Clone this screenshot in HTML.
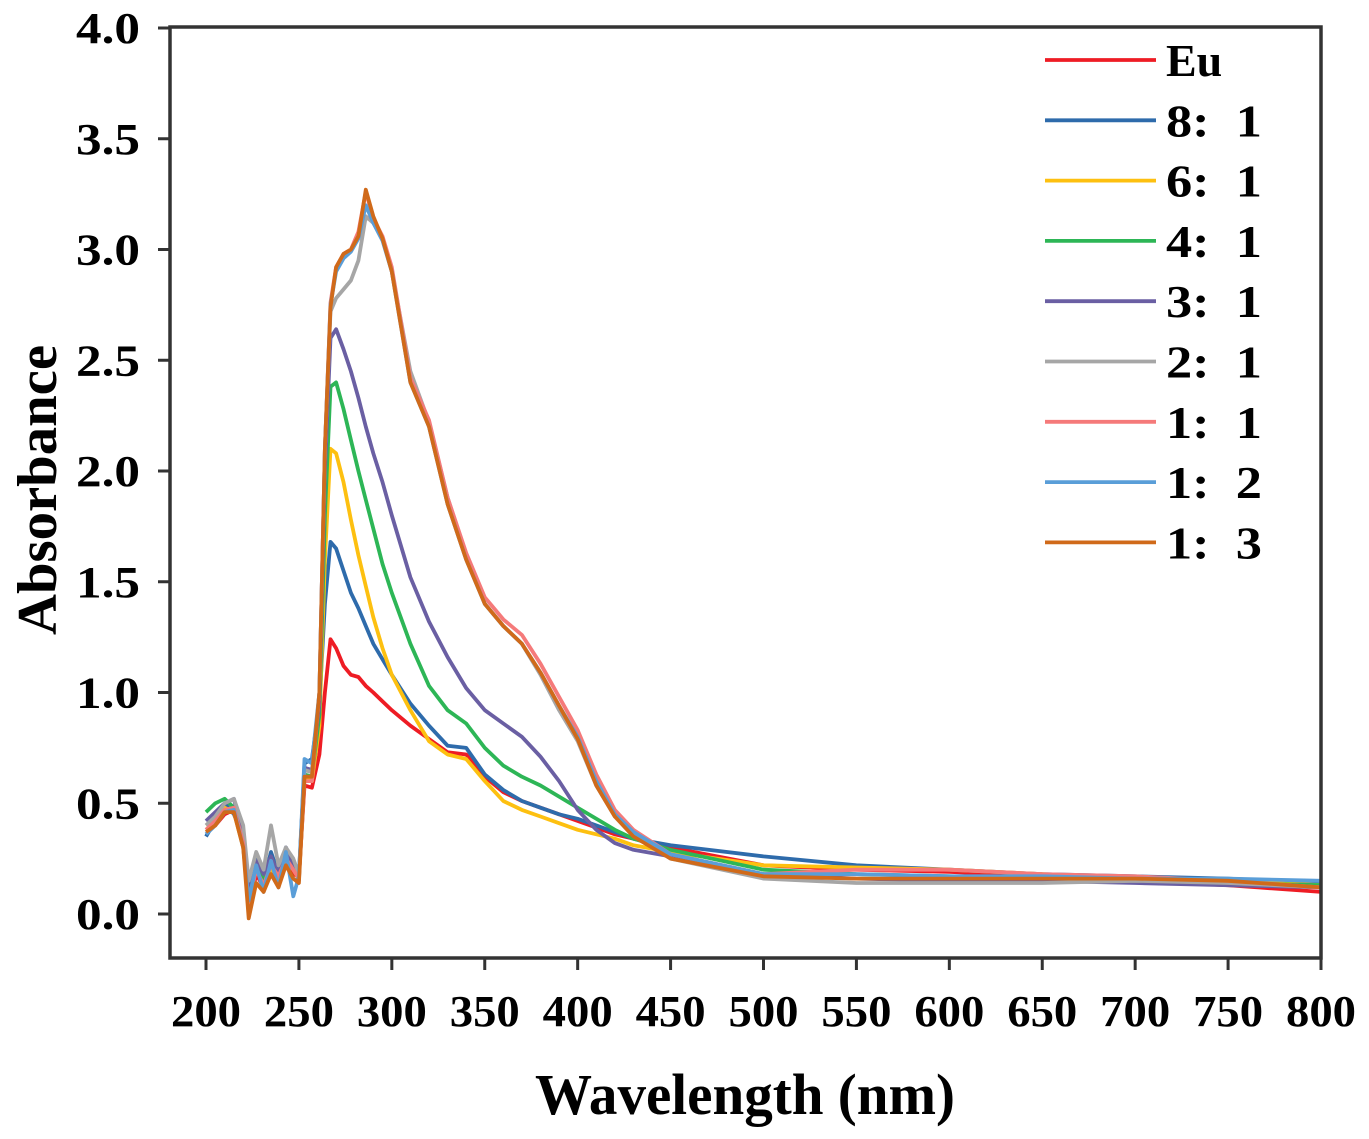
<!DOCTYPE html>
<html><head><meta charset="utf-8"><style>
html,body{margin:0;padding:0;background:#fff;}
svg{display:block;font-family:"Liberation Serif",serif;font-weight:bold;}
</style></head><body>
<svg id="chart" width="1369" height="1139" viewBox="0 0 1369 1139" xmlns="http://www.w3.org/2000/svg">
<rect x="0" y="0" width="1369" height="1139" fill="#fff"/>
<g id="series"></g>
<rect x="170" y="27" width="1151" height="931" fill="none" stroke="#333" stroke-width="3.5"/>
<g id="axes"></g>
<g id="legend"></g>
<text x="56" y="490" font-size="56" text-anchor="middle" transform="rotate(-90 56 490)" textLength="290" lengthAdjust="spacingAndGlyphs">Absorbance</text>
<text x="745" y="1114" font-size="58" text-anchor="middle" textLength="420" lengthAdjust="spacingAndGlyphs">Wavelength (nm)</text>
</svg>
<script>
const wavelengths=[200,205,210,215,220,223,227,231,235,239,243,247,250,253,257,261,264,267,270,274,278,282,286,290,295,300,310,320,330,340,350,360,370,380,390,400,410,420,430,450,500,550,600,650,700,750,800];
const seriesNames=["Eu","8:\u00a0\u00a01","6:\u00a0\u00a01","4:\u00a0\u00a01","3:\u00a0\u00a01","2:\u00a0\u00a01","1:\u00a0\u00a01","1:\u00a0\u00a02","1:\u00a0\u00a03"];
const seriesColors=["#ee1c24","#2e6bab","#fdc010","#2db656","#6a5fa3","#a6a6a6","#f57a7a","#5a9ed8","#d06a1a"];
const valsEu=[0.38,0.40,0.45,0.47,0.32,0.02,0.18,0.12,0.20,0.15,0.22,0.18,0.17,0.58,0.57,0.72,1.0,1.24,1.20,1.12,1.08,1.07,1.03,1.00,0.96,0.92,0.85,0.79,0.73,0.72,0.62,0.55,0.51,0.48,0.45,0.42,0.39,0.36,0.34,0.30,0.22,0.20,0.19,0.17,0.15,0.13,0.10];
const vals8to1=[0.35,0.42,0.50,0.45,0.35,0.10,0.25,0.15,0.28,0.18,0.30,0.22,0.15,0.68,0.70,0.95,1.4,1.68,1.65,1.55,1.45,1.38,1.30,1.22,1.15,1.08,0.95,0.85,0.76,0.75,0.63,0.56,0.51,0.48,0.45,0.43,0.40,0.37,0.34,0.31,0.26,0.22,0.20,0.18,0.17,0.16,0.14];
const vals6to1=[0.40,0.43,0.48,0.46,0.30,0.05,0.22,0.14,0.20,0.16,0.24,0.20,0.16,0.62,0.60,0.85,1.6,2.10,2.08,1.95,1.78,1.62,1.48,1.34,1.20,1.08,0.92,0.78,0.72,0.70,0.60,0.51,0.47,0.44,0.41,0.38,0.36,0.34,0.31,0.28,0.22,0.21,0.20,0.18,0.16,0.15,0.13];
const vals4to1=[0.46,0.50,0.52,0.48,0.33,0.06,0.24,0.16,0.22,0.18,0.26,0.21,0.17,0.63,0.62,0.9,1.8,2.38,2.40,2.28,2.14,2.0,1.87,1.74,1.58,1.45,1.22,1.03,0.92,0.86,0.75,0.67,0.62,0.58,0.53,0.48,0.43,0.38,0.34,0.29,0.20,0.18,0.17,0.16,0.15,0.14,0.13];
const vals3to1=[0.42,0.46,0.50,0.52,0.35,0.08,0.24,0.18,0.26,0.18,0.30,0.22,0.17,0.66,0.65,0.95,2.0,2.6,2.64,2.55,2.45,2.33,2.2,2.08,1.95,1.80,1.52,1.32,1.16,1.02,0.92,0.86,0.80,0.71,0.60,0.47,0.38,0.32,0.29,0.26,0.18,0.16,0.15,0.15,0.14,0.13,0.12];
const vals2to1=[0.40,0.44,0.50,0.52,0.40,0.15,0.28,0.20,0.40,0.22,0.30,0.25,0.18,0.65,0.64,1.0,2.1,2.72,2.78,2.82,2.86,2.95,3.15,3.12,3.05,2.9,2.45,2.22,1.88,1.62,1.40,1.30,1.22,1.08,0.92,0.78,0.58,0.44,0.36,0.25,0.16,0.14,0.14,0.14,0.15,0.14,0.12];
const vals1to1=[0.38,0.42,0.47,0.48,0.32,0.05,0.20,0.13,0.22,0.17,0.25,0.20,0.16,0.6,0.6,1.0,2.1,2.76,2.92,2.98,3.0,3.08,3.26,3.14,3.06,2.92,2.42,2.23,1.88,1.63,1.43,1.33,1.26,1.13,0.98,0.83,0.63,0.47,0.38,0.27,0.18,0.20,0.20,0.18,0.17,0.15,0.12];
const vals1to2=[0.36,0.40,0.46,0.47,0.30,0.06,0.22,0.10,0.24,0.12,0.28,0.08,0.17,0.70,0.68,1.0,2.1,2.75,2.9,2.96,2.99,3.05,3.2,3.12,3.04,2.9,2.40,2.2,1.85,1.6,1.40,1.30,1.22,1.09,0.94,0.80,0.60,0.45,0.37,0.27,0.18,0.18,0.17,0.17,0.16,0.16,0.15];
const vals1to3=[0.37,0.40,0.46,0.46,0.30,-0.02,0.14,0.10,0.18,0.12,0.22,0.16,0.14,0.62,0.62,1.0,2.1,2.74,2.92,2.98,3.0,3.06,3.27,3.15,3.05,2.9,2.4,2.2,1.85,1.6,1.40,1.30,1.22,1.09,0.94,0.79,0.58,0.44,0.35,0.25,0.17,0.16,0.16,0.16,0.16,0.15,0.12];
const xTicks=[200,250,300,350,400,450,500,550,600,650,700,750,800];
const yTicks=[0.0,0.5,1.0,1.5,2.0,2.5,3.0,3.5,4.0];
const seriesData=[valsEu,vals8to1,vals6to1,vals4to1,vals3to1,vals2to1,vals1to1,vals1to2,vals1to3];

const NS="http://www.w3.org/2000/svg";
function xScale(w){return 206+(w-200)*(1321-206)/600;}
function yScale(v){return 914-v*(914-28)/4;}

const sg=document.getElementById('series');
seriesData.forEach((vals,i)=>{
  const p=document.createElementNS(NS,'path');
  let d=vals.map((v,j)=>(j?'L':'M')+xScale(wavelengths[j]).toFixed(1)+' '+yScale(v).toFixed(1)).join(' ');
  p.setAttribute('d',d);
  p.setAttribute('fill','none');
  p.setAttribute('stroke',seriesColors[i]);
  p.setAttribute('stroke-width','3.8');
  p.setAttribute('stroke-linejoin','round');
  
  
  sg.appendChild(p);
});

const ax=document.getElementById('axes');
xTicks.forEach(t=>{
  const x=xScale(t);
  const l=document.createElementNS(NS,'line');
  l.setAttribute('x1',x);l.setAttribute('x2',x);l.setAttribute('y1',958);l.setAttribute('y2',970);
  l.setAttribute('stroke','#333');l.setAttribute('stroke-width','3');
  
  
  ax.appendChild(l);
  const tx=document.createElementNS(NS,'text');
  tx.setAttribute('x',x);tx.setAttribute('y',1026);tx.setAttribute('font-size','44');tx.setAttribute('text-anchor','middle');
  tx.setAttribute('textLength','70');tx.setAttribute('lengthAdjust','spacingAndGlyphs');
  tx.textContent=t;
  
  
  ax.appendChild(tx);
});
yTicks.forEach(t=>{
  const y=yScale(t);
  const l=document.createElementNS(NS,'line');
  l.setAttribute('x1',158);l.setAttribute('x2',170);l.setAttribute('y1',y);l.setAttribute('y2',y);
  l.setAttribute('stroke','#333');l.setAttribute('stroke-width','3');
  
  
  ax.appendChild(l);
  const tx=document.createElementNS(NS,'text');
  tx.setAttribute('x',140);tx.setAttribute('y',y+15);tx.setAttribute('font-size','44');tx.setAttribute('text-anchor','end');
  tx.setAttribute('textLength','64');tx.setAttribute('lengthAdjust','spacingAndGlyphs');
  tx.textContent=t.toFixed(1);
  
  
  ax.appendChild(tx);
});

const lg=document.getElementById('legend');
seriesNames.forEach((n,i)=>{
  const y=60+i*60.3;
  const l=document.createElementNS(NS,'line');
  l.setAttribute('x1',1045);l.setAttribute('x2',1156);l.setAttribute('y1',y);l.setAttribute('y2',y);
  l.setAttribute('stroke',seriesColors[i]);l.setAttribute('stroke-width','3.8');
  
  
  lg.appendChild(l);
  const tx=document.createElementNS(NS,'text');
  tx.setAttribute('x',1166);tx.setAttribute('y',y+16);tx.setAttribute('font-size','46');
  if(i>0){tx.setAttribute('textLength','96');tx.setAttribute('lengthAdjust','spacingAndGlyphs');}
  tx.textContent=n;
  
  
  lg.appendChild(tx);
});
</script>
</body></html>
